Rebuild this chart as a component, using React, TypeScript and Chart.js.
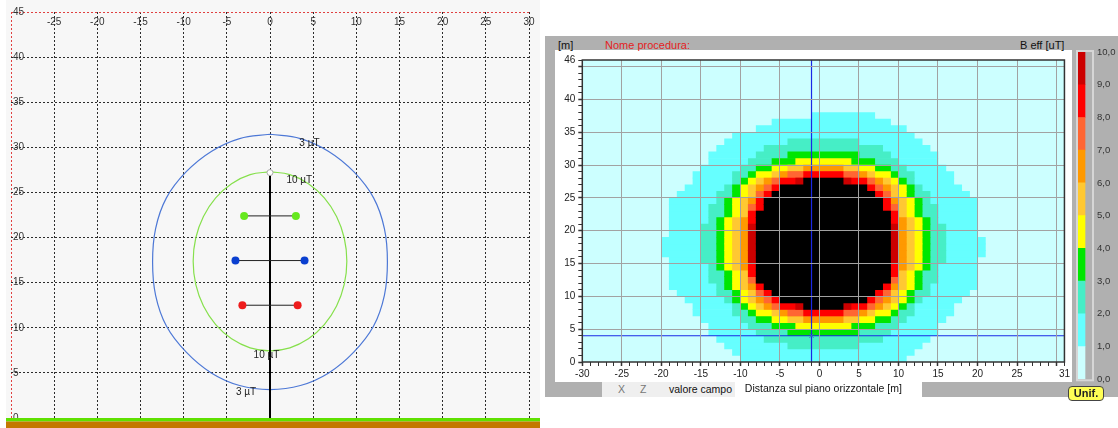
import React, { useEffect, useRef } from "react";
import { Chart, registerables } from "chart.js";
Chart.register(...registerables);

// ---------------- Left panel data ----------------
const leftXTicks = [-30, -25, -20, -15, -10, -5, 0, 5, 10, 15, 20, 25, 30];
const leftYTicks = [0, 5, 10, 15, 20, 25, 30, 35, 40, 45];

const contour3uT = [
  [0, 31.45], [3.52, 30.97], [6.8, 29.55], [9.7, 27.3], [12.0, 24.4], [13.25, 21.0], [13.6, 17.3],
  [13.25, 13.6], [12.0, 10.2], [9.7, 7.3], [6.8, 5.0], [3.52, 3.6], [0, 3.15],
  [-3.52, 3.6], [-6.8, 5.0], [-9.7, 7.3], [-12.0, 10.2], [-13.25, 13.6], [-13.6, 17.3],
  [-13.25, 21.0], [-12.0, 24.4], [-9.7, 27.3], [-6.8, 29.55], [-3.52, 30.97], [0, 31.45],
];
const contour10uT = [
  [0, 27.3], [2.3, 26.97], [4.45, 25.97], [6.29, 24.4], [7.71, 22.34], [8.6, 19.95], [8.9, 17.375],
  [8.6, 14.8], [7.71, 12.41], [6.29, 10.35], [4.45, 8.78], [2.3, 7.78], [0, 7.45],
  [-2.3, 7.78], [-4.45, 8.78], [-6.29, 10.35], [-7.71, 12.41], [-8.6, 14.8], [-8.9, 17.375],
  [-8.6, 19.95], [-7.71, 22.34], [-6.29, 24.4], [-4.45, 25.97], [-2.3, 26.97], [0, 27.3],
];
const contourLabelText = ["3 µT", "10 µT", "10 µT", "3 µT"];
const contourLabelX = [3.4, 1.9, -1.9, -3.95];
const contourLabelY = [30.4, 26.35, 7.0, 2.9];

const conductorY = [22.4, 17.45, 12.5];
const conductorHalfSpan = [3.0, 4.0, 3.2];
const poleTop = 27.2;

// ---------------- Right panel (heat map) data ----------------
// half-width k per row: cells -k..k are at or above the level
const levelFirstRow = [0, 2, 4, 5, 6, 6, 7, 7, 8, 8];
const cyanHalf = [10, 11, 12, 13, 14, 14, 15, 16, 16, 17, 18, 19, 19, 19, 19, 19, 20, 20, 20, 19, 19, 19, 19, 19, 19, 18, 17, 16, 16, 15, 14, 14, 13, 12, 11];
const cyanTopSpans = [[-8, 11], [-6, 9], [-1, 7]]; // rows 35..37
const aquaHalf = [4, 7, 8, 9, 10, 11, 11, 12, 13, 13, 14, 14, 14, 15, 15, 15, 15, 15, 15, 14, 14, 14, 13, 13, 12, 11, 11, 10, 9, 8, 7, 4];
const greenHalf = [4, 6, 8, 9, 10, 11, 11, 12, 12, 12, 13, 13, 13, 13, 13, 13, 13, 13, 12, 12, 12, 11, 11, 10, 9, 8, 6, 4];
const yellowHalf = [3, 6, 8, 9, 10, 10, 11, 11, 11, 12, 12, 12, 12, 12, 12, 12, 12, 11, 11, 11, 10, 10, 9, 8, 6, 3];
const lightOrangeHalf = [4, 6, 8, 9, 9, 10, 10, 10, 11, 11, 11, 11, 11, 11, 11, 11, 10, 10, 10, 9, 9, 8, 6, 4];
const orangeHalf = [2, 5, 7, 8, 8, 9, 9, 9, 10, 10, 10, 10, 10, 10, 10, 10, 9, 9, 9, 8, 8, 7, 5, 2];
const orangeRedHalf = [4, 6, 7, 8, 8, 9, 9, 9, 9, 9, 9, 9, 9, 9, 9, 9, 9, 8, 8, 7, 6, 4];
const redHalf = [2, 5, 6, 7, 8, 8, 9, 9, 9, 9, 9, 9, 9, 9, 9, 9, 8, 8, 7, 6, 5, 2];
const darkRedHalf = [3, 5, 6, 7, 8, 8, 8, 9, 9, 9, 9, 9, 9, 8, 8, 7, 7, 6, 5, 3];
const blackHalf = [2, 5, 6, 7, 8, 8, 8, 8, 8, 8, 8, 8, 8, 8, 8, 7, 7, 6, 5, 2];

const heatXTicks = Array.from({ length: 62 }, (_, i) => -30 + i);
const heatYTicks = Array.from({ length: 47 }, (_, i) => i);
const cursorX = -1;
const cursorY = 4;

const colorbarLevels = [0, 1, 2, 3, 4, 5, 6, 7, 8, 9, 10];

// ---------------- styles ----------------
const levelColors = ["#66ffff", "#46eec6", "#00e600", "#ffff00", "#ffc832", "#ff9900", "#ff6633", "#ff0000", "#cc0000", "#000000"];
const bgCyan = "#ccffff";
const FONT = "'Liberation Sans', Arial, sans-serif";

function spans(first: number, halves: number[]) {
  return halves.map((k, j) => ({ x: [-k, k + 1], y: first + j + 0.5 }));
}

export default function App() {
  const leftRef = useRef<HTMLCanvasElement>(null);
  const heatRef = useRef<HTMLCanvasElement>(null);
  const barRef = useRef<HTMLCanvasElement>(null);

  useEffect(() => {
    const charts: Chart[] = [];

    // ---------- Left chart ----------
    const leftDecor = {
      id: "leftDecor",
      afterDraw(chart: any) {
        const { ctx, chartArea, scales } = chart;
        const xs = scales.x, ys = scales.y;
        ctx.save();
        ctx.font = "10px 'Liberation Sans Narrow', 'Liberation Sans', sans-serif";
        ctx.fillStyle = "#333";
        ctx.textBaseline = "middle";
        ctx.textAlign = "center";
        leftXTicks.forEach((v, i) => {
          if (i === 0) return;
          ctx.fillText(String(v), xs.getPixelForValue(v), chartArea.top + 10);
        });
        ctx.textAlign = "left";
        leftYTicks.forEach((v) => ctx.fillText(String(v), chartArea.left + 2, ys.getPixelForValue(v)));
        ctx.font = "10px 'Liberation Sans', sans-serif";
        ctx.fillStyle = "#222";
        contourLabelText.forEach((t, i) =>
          ctx.fillText(t, xs.getPixelForValue(contourLabelX[i]), ys.getPixelForValue(contourLabelY[i]))
        );
        const g = ys.getPixelForValue(0);
        ctx.fillStyle = "#5fe000";
        ctx.fillRect(0, g, chart.width, 3.5);
        ctx.fillStyle = "#c47800";
        ctx.fillRect(0, g + 3.5, chart.width, chart.height - g - 3.5);
        ctx.restore();
      },
    };

    const condPts: any[] = [];
    const condColors: string[] = [];
    const condPalette = ["#66e81e", "#0a3fd0", "#ee1c1c"];
    conductorY.forEach((y, i) => {
      condPts.push({ x: -conductorHalfSpan[i], y }, { x: conductorHalfSpan[i], y });
      condColors.push(condPalette[i], condPalette[i]);
    });

    const armSets = conductorY.map((y, i) => ({
      type: "line",
      data: [{ x: -conductorHalfSpan[i], y }, { x: conductorHalfSpan[i], y }],
      borderColor: "#222",
      borderWidth: 1,
      pointRadius: 0,
    }));

    const left = new Chart(leftRef.current!, {
      type: "line",
      data: {
        datasets: [
          {
            data: condPts,
            showLine: false,
            pointRadius: 4,
            pointBackgroundColor: condColors,
            pointBorderColor: condColors,
            borderWidth: 0,
          },
          {
            data: [{ x: 0, y: poleTop }],
            showLine: false,
            pointRadius: 3,
            pointBackgroundColor: "#ffffff",
            pointBorderColor: "#aaaaaa",
            pointBorderWidth: 1,
          },
          ...armSets,
          {
            data: [{ x: 0, y: 0 }, { x: 0, y: poleTop }],
            borderColor: "#000",
            borderWidth: 2,
            pointRadius: 0,
          },
          {
            data: contour10uT.map(([x, y]) => ({ x, y })),
            borderColor: "#86e04c",
            borderWidth: 1.2,
            pointRadius: 0,
            tension: 0.4,
          },
          {
            data: contour3uT.map(([x, y]) => ({ x, y })),
            borderColor: "#4d78d6",
            borderWidth: 1.2,
            pointRadius: 0,
            tension: 0.4,
          },
        ] as any,
      },
      options: {
        animation: false,
        responsive: false,
        events: [],
        layout: { padding: { left: 5, right: 11, top: 12, bottom: 10 }, autoPadding: false },
        plugins: { legend: { display: false }, tooltip: { enabled: false } },
        scales: {
          x: {
            type: "linear",
            min: -30,
            max: 30,
            offset: false,
            afterBuildTicks: (s: any) => {
              s.ticks = leftXTicks.map((v) => ({ value: v }));
            },
            ticks: { display: false },
            grid: {
              drawTicks: false,
              offset: false,
              color: (c: any) => (c.tick && c.tick.value === -30 ? "#e04040" : "#2c2c2c"),
              lineWidth: 1,
            },
            border: { display: false, dash: [2, 2] },
          },
          y: {
            type: "linear",
            min: 0,
            max: 45,
            afterBuildTicks: (s: any) => {
              s.ticks = leftYTicks.map((v) => ({ value: v }));
            },
            ticks: { display: false },
            grid: {
              drawTicks: false,
              color: (c: any) =>
                c.tick && c.tick.value === 45 ? "#e04040" : c.tick && c.tick.value === 0 ? "rgba(0,0,0,0)" : "#2c2c2c",
              lineWidth: 1,
            },
            border: { display: false, dash: [2, 2] },
          },
        },
      } as any,
      plugins: [leftDecor],
    });
    charts.push(left);

    // ---------- Heat map ----------
    const halves = [cyanHalf, aquaHalf, greenHalf, yellowHalf, lightOrangeHalf, orangeHalf, orangeRedHalf, redHalf, darkRedHalf, blackHalf];
    const levelData = halves.map((h, i) => spans(levelFirstRow[i], h));
    cyanTopSpans.forEach((s, j) => levelData[0].push({ x: s, y: cyanHalf.length + j + 0.5 }));

    const barSets = levelData
      .map((d, i) => ({
        type: "bar",
        indexAxis: "y",
        data: d,
        backgroundColor: levelColors[i],
        borderWidth: 0,
        grouped: false,
        barPercentage: 1,
        categoryPercentage: 1,
      }))
      .reverse();

    const heatDecor = {
      id: "heatDecor",
      beforeDraw(chart: any) {
        const { ctx, chartArea } = chart;
        ctx.save();
        ctx.fillStyle = bgCyan;
        ctx.fillRect(chartArea.left, chartArea.top, chartArea.right - chartArea.left, chartArea.bottom - chartArea.top);
        ctx.restore();
      },
      afterDraw(chart: any) {
        const { ctx, chartArea } = chart;
        ctx.save();
        ctx.strokeStyle = "#333";
        ctx.lineWidth = 1.5;
        ctx.strokeRect(chartArea.left, chartArea.top, chartArea.right - chartArea.left, chartArea.bottom - chartArea.top);
        ctx.restore();
      },
    };

    const isMajor = (v: number) => v % 5 === 0;
    const heat = new Chart(heatRef.current!, {
      type: "bar",
      data: {
        datasets: [
          {
            type: "line",
            data: [{ x: cursorX, y: cursorY }],
            showLine: false,
            pointStyle: "crossRot",
            pointRadius: 3,
            pointBorderColor: "#3a7abf",
            pointBorderWidth: 1,
          },
          {
            type: "line",
            data: [{ x: cursorX, y: 0 }, { x: cursorX, y: 46 }],
            borderColor: "#1a28e6",
            borderWidth: 1.2,
            pointRadius: 0,
          },
          {
            type: "line",
            data: [{ x: -30, y: cursorY }, { x: 31, y: cursorY }],
            borderColor: "#1a28e6",
            borderWidth: 1.2,
            pointRadius: 0,
          },
          ...barSets,
        ] as any,
      },
      options: {
        animation: false,
        responsive: false,
        events: [],
        layout: { padding: { left: 0, right: 4.3, top: 10, bottom: 0 }, autoPadding: false },
        plugins: { legend: { display: false }, tooltip: { enabled: false } },
        scales: {
          x: {
            type: "linear",
            position: "bottom",
            min: -30,
            max: 31,
            offset: false,
            afterBuildTicks: (s: any) => {
              s.ticks = heatXTicks.map((v) => ({ value: v }));
            },
            afterFit: (s: any) => {
              s.height = 35;
            },
            ticks: {
              autoSkip: false,
              maxRotation: 0,
              minRotation: 0,
              padding: 2,
              color: "#222",
              font: { family: FONT, size: 10 },
              callback: (v: any) => (v === 31 ? "31" : isMajor(v) && v !== 30 ? String(v) : ""),
            },
            grid: {
              z: 1,
              offset: false,
              color: (c: any) => (c.tick && isMajor(c.tick.value) && c.tick.value !== -30 ? "#a2a2a2" : "rgba(0,0,0,0)"),
              tickColor: "#333",
              tickLength: 4,
              tickWidth: (c: any) => (c.tick && isMajor(c.tick.value) ? 1.5 : 1),
              lineWidth: 1,
            },
            border: { display: false },
            title: {
              display: true,
              text: "Distanza sul piano orizzontale [m]",
              color: "#111",
              font: { family: FONT, size: 10.5 },
              padding: { top: 0, bottom: 1.5 },
            },
          },
          y: {
            type: "linear",
            min: 0,
            max: 46,
            offset: false,
            afterBuildTicks: (s: any) => {
              s.ticks = heatYTicks.map((v) => ({ value: v }));
            },
            afterFit: (s: any) => {
              s.width = 27.3;
            },
            ticks: {
              autoSkip: false,
              padding: 3,
              color: "#222",
              font: { family: FONT, size: 10 },
              callback: (v: any) => (v === 46 ? "46" : isMajor(v) && v !== 45 ? String(v) : ""),
            },
            grid: {
              z: 1,
              offset: false,
              color: (c: any) => (c.tick && isMajor(c.tick.value) && c.tick.value !== 0 ? "#a2a2a2" : "rgba(0,0,0,0)"),
              tickColor: "#333",
              tickLength: 4,
              tickWidth: (c: any) => (c.tick && isMajor(c.tick.value) ? 1.5 : 1),
              lineWidth: 1,
            },
            border: { display: false },
          },
        },
      } as any,
      plugins: [heatDecor],
    });
    charts.push(heat);

    // ---------- Colour bar ----------
    const bandSets = colorbarLevels.slice(0, -1).map((lv, i) => ({
      data: [colorbarLevels[i + 1] - lv],
      backgroundColor: i === 0 ? bgCyan : levelColors[i - 1],
      borderWidth: 0,
      barPercentage: 1,
      categoryPercentage: 1,
    }));
    const barFrame = {
      id: "barFrame",
      afterDraw(chart: any) {
        const { ctx, chartArea } = chart;
        ctx.save();
        ctx.strokeStyle = "#d6d6d6";
        ctx.lineWidth = 2;
        ctx.strokeRect(chartArea.left - 1, chartArea.top - 1, chartArea.right - chartArea.left + 2, chartArea.bottom - chartArea.top + 2);
        ctx.restore();
      },
    };
    const bar = new Chart(barRef.current!, {
      type: "bar",
      data: { labels: ["B"], datasets: bandSets as any },
      options: {
        animation: false,
        responsive: false,
        events: [],
        layout: { padding: { left: 6, right: 0, top: 12, bottom: 10 }, autoPadding: false },
        plugins: { legend: { display: false }, tooltip: { enabled: false } },
        scales: {
          x: { display: false, stacked: true, offset: false },
          y: {
            stacked: true,
            position: "right",
            min: 0,
            max: 10,
            afterBuildTicks: (s: any) => {
              s.ticks = colorbarLevels.map((v) => ({ value: v }));
            },
            afterFit: (s: any) => {
              s.width = 26;
            },
            ticks: {
              padding: 5,
              color: "#333",
              font: { family: FONT, size: 9.5 },
              callback: (v: any) => Number(v).toFixed(1).replace(".", ","),
            },
            grid: { display: false, drawTicks: false, tickLength: 0 },
            border: { display: false },
          },
        },
      } as any,
      plugins: [barFrame],
    });
    charts.push(bar);

    return () => charts.forEach((c) => c.destroy());
  }, []);

  const abs = (l: number, t: number, w: number, h: number, extra: any = {}) => ({
    position: "absolute" as const,
    left: l,
    top: t,
    width: w,
    height: h,
    ...extra,
  });
  const txt = { fontFamily: FONT, fontSize: 11, lineHeight: "14px", whiteSpace: "nowrap" as const, position: "absolute" as const };

  return (
    <div style={{ position: "absolute", left: 0, top: 0, width: 1118, height: 428, background: "#fff", overflow: "hidden" }}>
      {/* Left panel */}
      <div style={abs(6, 0, 534, 428, { background: "#f7f7f7" })} />
      <canvas ref={leftRef} width={534} height={428} style={abs(6, 0, 534, 428)} />

      {/* Right panel frame */}
      <div style={abs(545, 36, 573, 361, { background: "#b0b0b0" })} />
      <div style={abs(555, 50, 517, 332, { background: "#fff" })} />
      <div style={abs(735, 382, 187, 15, { background: "#fff" })} />
      <div style={abs(602, 382, 133, 15, { background: "#efefef" })} />
      <div style={{ ...txt, left: 618, top: 382, fontSize: 10.5, lineHeight: "15px", color: "#777" }}>X</div>
      <div style={{ ...txt, left: 640, top: 382, fontSize: 10.5, lineHeight: "15px", color: "#777" }}>Z</div>
      <div style={{ ...txt, left: 669, top: 382, fontSize: 10.5, lineHeight: "15px", color: "#111" }}>valore campo</div>
      <div style={{ ...txt, left: 558, top: 38, color: "#111" }}>[m]</div>
      <div style={{ ...txt, left: 605, top: 38, color: "#e41e1e" }}>Nome procedura:</div>
      <div style={{ ...txt, left: 1020, top: 38, color: "#111" }}>B eff [uT]</div>
      <canvas ref={heatRef} width={517} height={347} style={abs(555, 50, 517, 347)} />
      <canvas ref={barRef} width={46} height={350} style={abs(1072, 40, 46, 350)} />
      <div
        style={abs(1068, 386, 36, 15, {
          background: "#ffff55",
          border: "1px solid #444",
          borderRadius: 4,
          fontFamily: FONT,
          fontSize: 11,
          fontWeight: "bold",
          lineHeight: "13px",
          textAlign: "center",
          color: "#222",
          boxSizing: "border-box",
        })}
      >
        Unif.
      </div>
    </div>
  );
}
